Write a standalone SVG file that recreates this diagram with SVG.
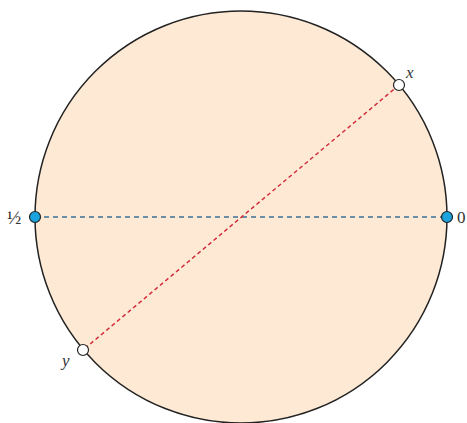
<svg xmlns="http://www.w3.org/2000/svg" width="467" height="423" viewBox="0 0 467 423">
<style>
.lbl{font-family:"Liberation Serif","DejaVu Serif",serif;font-size:17px;fill:#333}
.it{font-style:italic}
.dot{stroke:#222;stroke-width:1.2}
</style>
<rect width="467" height="423" fill="#fff"/>
<g id="disk"><circle cx="241" cy="217" r="206" fill="#fde9d4" stroke="#222" stroke-width="1.5"/></g>
<g id="connectors">
<line x1="35" y1="217" x2="447" y2="217" stroke="#3b6f96" stroke-width="1.5" stroke-dasharray="5,4"/>
<line x1="399" y1="85" x2="83" y2="350" stroke="#d42a3a" stroke-width="1.5" stroke-dasharray="4,3"/>
</g>
<g id="node-half"><circle class="dot" cx="35" cy="217" r="5.5" fill="#1aa3dd"/><text class="lbl" x="7" y="224" style="font-size:19px">½</text></g>
<g id="node-zero"><circle class="dot" cx="447" cy="217" r="5.5" fill="#1aa3dd"/><text class="lbl" x="457" y="223">0</text></g>
<g id="node-x"><circle class="dot" cx="399" cy="85" r="5.5" fill="#fff"/><text class="lbl it" x="406" y="78">x</text></g>
<g id="node-y"><circle class="dot" cx="83" cy="350" r="5.5" fill="#fff"/><text class="lbl it" x="62" y="366">y</text></g>
</svg>
